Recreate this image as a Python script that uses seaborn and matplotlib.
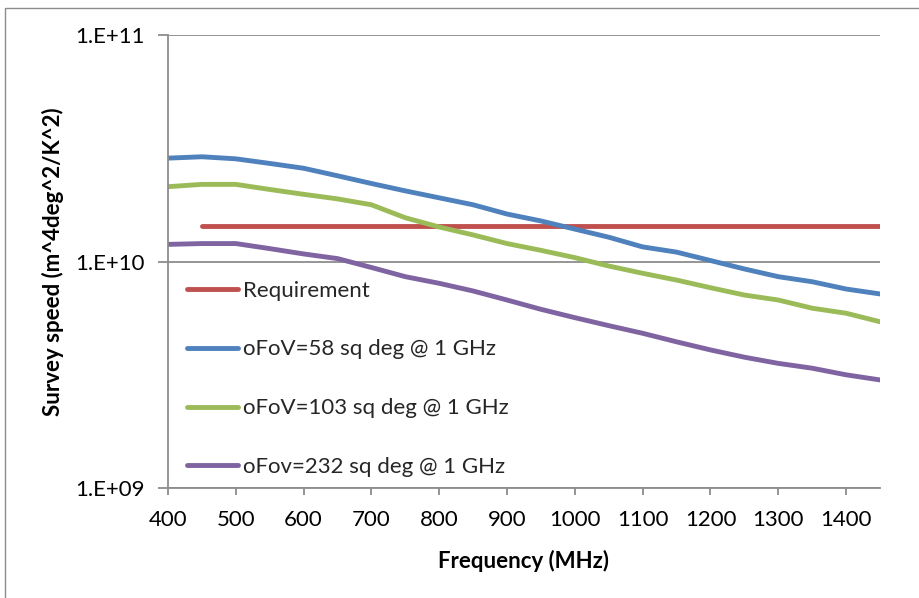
import numpy as np
import pandas as pd
import matplotlib
matplotlib.use("Agg")
import matplotlib.pyplot as plt
from matplotlib.ticker import FixedLocator, FuncFormatter, NullLocator
from matplotlib.patches import Rectangle
import seaborn as sns

# Frequency grid (MHz)
freq = [400, 450, 500, 550, 600, 650, 700, 750, 800, 850, 900, 950,
        1000, 1050, 1100, 1150, 1200, 1250, 1300, 1350, 1400, 1450]

# Survey speed (m^4 deg^2 / K^2)
requirement_freq = [450, 1450]
requirement = [1.43e10, 1.43e10]

fov_58 = [2.86e10, 2.90e10, 2.84e10, 2.71e10, 2.58e10, 2.39e10, 2.21e10, 2.05e10,
          1.91e10, 1.78e10, 1.62e10, 1.51e10, 1.39e10, 1.28e10, 1.16e10, 1.10e10,
          1.01e10, 9.27e9, 8.57e9, 8.14e9, 7.56e9, 7.19e9]
fov_103 = [2.14e10, 2.19e10, 2.19e10, 2.08e10, 1.98e10, 1.89e10, 1.78e10, 1.56e10,
           1.42e10, 1.31e10, 1.20e10, 1.12e10, 1.04e10, 9.55e9, 8.87e9, 8.28e9,
           7.66e9, 7.11e9, 6.76e9, 6.22e9, 5.91e9, 5.42e9]
fov_232 = [1.19e10, 1.20e10, 1.20e10, 1.14e10, 1.08e10, 1.03e10, 9.41e9, 8.57e9,
           8.01e9, 7.41e9, 6.76e9, 6.15e9, 5.65e9, 5.21e9, 4.82e9, 4.42e9,
           4.07e9, 3.78e9, 3.55e9, 3.38e9, 3.16e9, 3.00e9]

series_names = ["Requirement", "oFoV=58 sq deg @ 1 GHz",
                "oFoV=103 sq deg @ 1 GHz", "oFov=232 sq deg @ 1 GHz"]
series_colors = ["#C0504D", "#4F81BD", "#9BBB59", "#8064A2"]

x_ticks = [400, 500, 600, 700, 800, 900, 1000, 1100, 1200, 1300, 1400]
y_ticks = [1e9, 1e10, 1e11]

frames = [pd.DataFrame({"freq": requirement_freq, "speed": requirement,
                        "series": series_names[0]})]
for name, vals in zip(series_names[1:], [fov_58, fov_103, fov_232]):
    frames.append(pd.DataFrame({"freq": freq, "speed": vals, "series": name}))
df = pd.concat(frames, ignore_index=True)

sns.set_theme(style="white")
plt.rcParams["font.family"] = ["Lato", "DejaVu Sans"]

fig = plt.figure(figsize=(9.19, 5.98), dpi=100)
ax = fig.add_axes([168 / 919, 1 - 488 / 598, (880 - 168) / 919, (488 - 35) / 598])

sns.lineplot(data=df, x="freq", y="speed", hue="series", hue_order=series_names,
             palette=series_colors, linewidth=3.5, ax=ax, sort=False,
             solid_capstyle="round", estimator=None)

ax.set_yscale("log")
ax.set_xlim(400, 1450)
ax.set_ylim(1e9, 1e11)

grid_color = "#8C8C8C"
ax.xaxis.set_major_locator(FixedLocator(x_ticks))
ax.yaxis.set_major_locator(FixedLocator(y_ticks))
ax.yaxis.set_minor_locator(NullLocator())
ax.yaxis.set_major_formatter(FuncFormatter(lambda v, p: "1.E+%02d" % int(round(np.log10(v)))))
ax.grid(True, axis="y", color=grid_color, linewidth=1.3)
ax.set_axisbelow(True)

for side in ["top", "right"]:
    ax.spines[side].set_visible(False)
for side in ["left", "bottom"]:
    ax.spines[side].set_color(grid_color)
    ax.spines[side].set_linewidth(1.3)

ax.tick_params(axis="y", which="major", direction="out", length=7, width=1.3,
               color=grid_color, labelsize=16, pad=10, left=True, labelcolor="black")
ax.tick_params(axis="x", which="major", direction="out", length=5, width=1.3,
               color=grid_color, labelsize=16, pad=11, bottom=True, labelcolor="black")

ax.set_xlabel("Frequency (MHz)", fontsize=16, fontweight="bold", labelpad=14.5, color="black")
ax.set_ylabel("Survey speed (m^4deg^2/K^2)", fontsize=16, fontweight="bold",
              labelpad=8, color="black")

leg = ax.legend(loc="upper left", bbox_to_anchor=(0.027, 0.458), frameon=False,
                fontsize=16, handlelength=2.3, handletextpad=0.2,
                labelspacing=1.75, borderaxespad=0, borderpad=0)
for line in leg.get_lines():
    line.set_linewidth(3.5)
    line.set_solid_capstyle("round")

# Chart-area frame
fig.patches.append(Rectangle((5 / 919, -0.1), 1.2, 1 - 8 / 598 + 0.1,
                             transform=fig.transFigure, fill=False,
                             edgecolor="#8C8C8C", linewidth=1.0))

fig.savefig("out.png", dpi=100)
